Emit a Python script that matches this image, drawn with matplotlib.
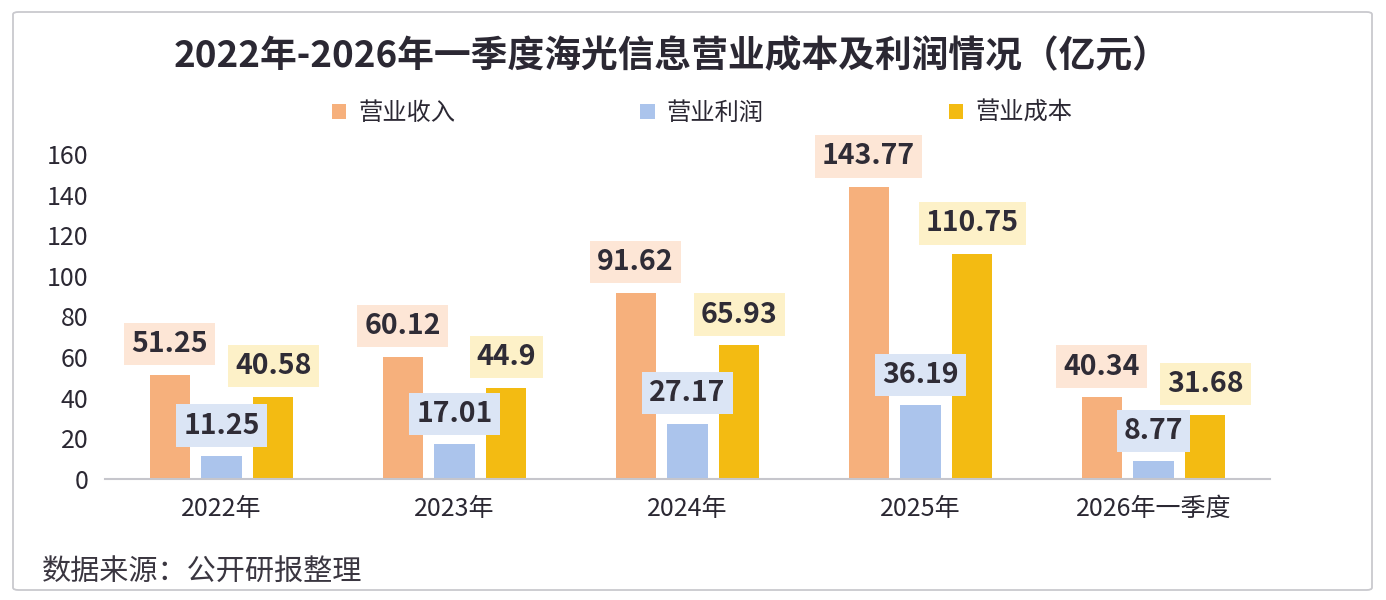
import numpy as np
import matplotlib
matplotlib.use('Agg')
import matplotlib.pyplot as plt
from matplotlib.patches import FancyBboxPatch

plt.rcParams['font.family'] = ['Noto Sans CJK SC', 'DejaVu Sans']

# data
categories = ['2022年', '2023年', '2024年', '2025年', '2026年一季度']
series_names = ['营业收入', '营业利润', '营业成本']
revenue = [51.25, 60.12, 91.62, 143.77, 40.34]
profit = [11.25, 17.01, 27.17, 36.19, 8.77]
cost = [40.58, 44.9, 65.93, 110.75, 31.68]
yticks = [0, 20, 40, 60, 80, 100, 120, 140, 160]

bar_colors = ['#f6b07c', '#abc4ec', '#f3bb12']
box_colors = ['#fde6d6', '#dbe5f5', '#fdf1c8']
text_dark = '#2b2833'

fig = plt.figure(figsize=(13.86, 6.0), dpi=100)
fig.patch.set_facecolor('white')

# outer frame
frame = FancyBboxPatch((13 / 1386, 10 / 600), 1359 / 1386, 578 / 600,
                       boxstyle='round,pad=0,rounding_size=0.004',
                       transform=fig.transFigure, fc='white', ec='#c9c9ce',
                       lw=1.3, zorder=-1)
fig.patches.append(frame)

ax = fig.add_axes([105 / 1386, 1 - 479 / 600, 1165 / 1386, 325 / 600])
ax.set_facecolor('none')

x = np.arange(len(categories))
width = 0.172
step = 0.223
all_series = [revenue, profit, cost]

for i, vals in enumerate(all_series):
    xs = x + (i - 1) * step
    ax.bar(xs, vals, width=width, color=bar_colors[i], label=series_names[i], zorder=2)
    for xx, v in zip(xs, vals):
        ax.annotate(f'{v:g}', (xx, v), xytext=(0, 22), textcoords='offset points',
                    ha='center', va='center', fontsize=20.5, fontweight='bold',
                    color='#2f2c36', zorder=3, annotation_clip=False,
                    bbox=dict(boxstyle='square,pad=0.25', fc=box_colors[i], ec='none'))

ax.set_xlim(-0.5, len(categories) - 0.5)
ax.set_ylim(0, 160)
ax.set_yticks(yticks)
ax.set_yticklabels([str(t) for t in yticks])
ax.set_xticks(x)
ax.set_xticklabels(categories)
ax.tick_params(axis='y', length=0, pad=12, labelsize=18, labelcolor=text_dark)
ax.tick_params(axis='x', length=0, pad=12, labelsize=18, labelcolor=text_dark)
for s in ['top', 'right', 'left']:
    ax.spines[s].set_visible(False)
ax.spines['bottom'].set_color('#c6c6cc')
ax.spines['bottom'].set_linewidth(1.5)

# title
fig.text(672 / 1386, 1 - 57 / 600, '2022年-2026年一季度海光信息营业成本及利润情况（亿元）',
         ha='center', va='center', fontsize=26.5, fontweight='bold', color=text_dark)

# legend
leg = fig.legend(loc='center', bbox_to_anchor=(702 / 1386, 1 - 113 / 600), ncol=3,
                 frameon=False, fontsize=17.5, handlelength=0.6, handleheight=0.6,
                 handletextpad=0.5, columnspacing=7.6)
for t in leg.get_texts():
    t.set_color(text_dark)

# source
fig.text(42 / 1386, 1 - 572 / 600, '数据来源：公开研报整理', ha='left', va='center',
         fontsize=21, color='#3a3640')

fig.savefig('out.png', dpi=100)
